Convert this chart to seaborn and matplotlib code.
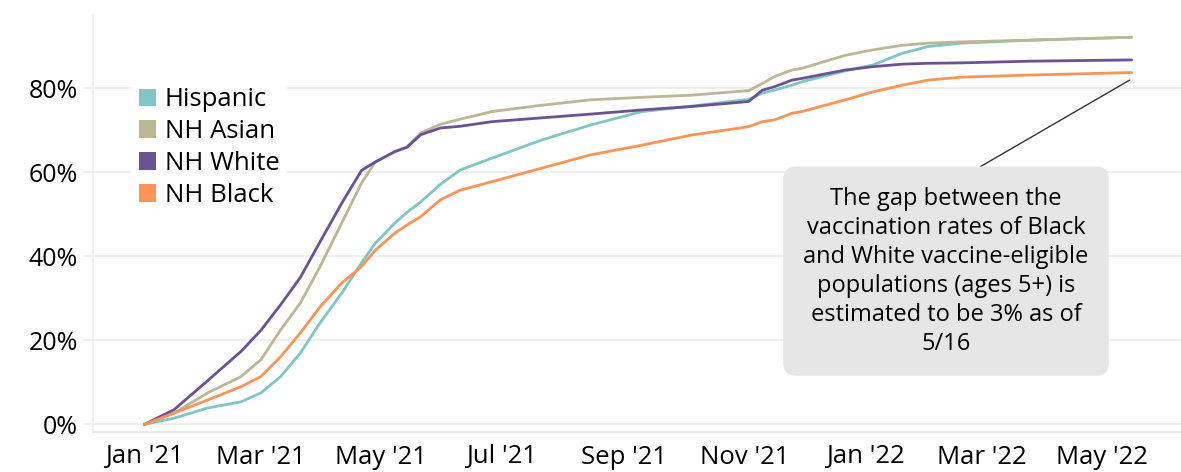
import matplotlib
matplotlib.use("Agg")
import matplotlib.pyplot as plt
import matplotlib.dates as mdates
from matplotlib.patches import Patch
import seaborn as sns
import pandas as pd

dates = ["2021-01-01", "2021-01-16", "2021-02-02", "2021-02-19", "2021-03-01",
         "2021-03-11", "2021-03-21", "2021-03-31", "2021-04-11", "2021-04-21",
         "2021-04-28", "2021-05-08", "2021-05-14", "2021-05-21", "2021-05-31",
         "2021-06-10", "2021-06-26", "2021-07-21", "2021-08-15", "2021-09-10",
         "2021-10-05", "2021-11-03", "2021-11-10", "2021-11-16", "2021-11-25",
         "2021-11-30", "2021-12-22", "2022-01-05", "2022-01-20", "2022-02-02",
         "2022-02-19", "2022-03-25", "2022-05-16"]

hispanic = [0, 1.5, 3.9, 5.4, 7.5, 11.4, 17, 24.2, 31.3, 38.5, 43.2, 48, 50.5, 53,
            57.2, 60.6, 63.4, 67.7, 71.3, 74.5, 75.8, 77.4, 78.9, 79.6, 80.8, 81.6,
            84.2, 85.6, 88.4, 90, 90.8, 91.5, 92.2]
nh_asian = [0, 2.7, 7.5, 11.4, 15.4, 22.5, 28.9, 37.6, 48, 57.5, 62.5, 65, 66.1,
            69.4, 71.5, 72.7, 74.5, 76, 77.3, 77.9, 78.4, 79.5, 81.2, 82.8, 84.4,
            84.8, 87.9, 89.2, 90.3, 90.8, 91.1, 91.5, 92.2]
nh_white = [0, 3.5, 10.4, 17.4, 22.4, 28.5, 35, 43.5, 52.7, 60.5, 62.5, 65, 66,
            69, 70.6, 71, 72.1, 73, 73.9, 74.9, 75.7, 76.9, 79.6, 80.4, 82, 82.4,
            84.4, 85.2, 85.8, 86, 86.1, 86.5, 86.8]
nh_black = [0, 2.7, 5.8, 9, 11.4, 16.1, 21.8, 28, 33.7, 37.6, 41.5, 45.6, 47.5,
            49.5, 53.5, 55.8, 57.8, 61, 64.2, 66.5, 68.9, 70.9, 72.1, 72.5, 74.1,
            74.5, 77.3, 79.2, 80.8, 82, 82.7, 83.2, 83.8]

groups = ["Hispanic", "NH Asian", "NH White", "NH Black"]
colors = ["#7fc6c4", "#bcb795", "#6a5395", "#fd9457"]
y_ticks = [0, 20, 40, 60, 80]

note = ("The gap between the\nvaccination rates of Black\nand White vaccine-eligible\n"
        "populations (ages 5+) is\nestimated to be 3% as of\n5/16")

frames = []
for g, vals in zip(groups, [hispanic, nh_asian, nh_white, nh_black]):
    frames.append(pd.DataFrame({"date": pd.to_datetime(dates), "pct": vals, "group": g}))
df = pd.concat(frames, ignore_index=True)

sns.set_theme(style="white")
plt.rcParams["font.family"] = ["Open Sans", "DejaVu Sans"]

fig = plt.figure(figsize=(11.81, 4.72), dpi=100)
ax = fig.add_axes([93 / 1181, 40 / 472, 1 - 93 / 1181, (432 - 15) / 472])

sns.lineplot(data=df, x="date", y="pct", hue="group", hue_order=groups,
             palette=colors, linewidth=2.0, legend=False, ax=ax)

ax.set_xlim(pd.Timestamp("2020-12-06"), pd.Timestamp("2022-06-10"))
ax.set_ylim(-1.8, 97.5)
ax.set_yticks(y_ticks)
ax.set_yticklabels([f"{v}%" for v in y_ticks])
ax.yaxis.grid(True, color="#ececec", linewidth=1.2)
ax.set_axisbelow(True)

ax.xaxis.set_major_locator(mdates.MonthLocator(bymonth=[1, 3, 5, 7, 9, 11]))
ax.xaxis.set_minor_locator(mdates.MonthLocator())
ax.xaxis.set_major_formatter(mdates.DateFormatter("%b '%y"))

for s in ["top", "right"]:
    ax.spines[s].set_visible(False)
ax.spines["left"].set_color("#efefef")
ax.spines["bottom"].set_color("#ebebeb")
ax.spines["left"].set_linewidth(1.2)
ax.spines["bottom"].set_linewidth(1.5)

ax.tick_params(axis="x", which="both", length=6, color="#e6e6e6", width=1.2,
               labelsize=18.5, pad=3, labelcolor="#000000")
ax.tick_params(axis="y", which="both", length=7, color="#ececec", width=1.2,
               labelsize=18, pad=4, labelcolor="#000000", left=True)
ax.set_xlabel("")
ax.set_ylabel("")

handles = [Patch(facecolor=c, edgecolor="none") for c in colors]
leg = ax.legend(handles, groups, loc="upper left", bbox_to_anchor=(0.035, 0.845),
                frameon=True, framealpha=1, edgecolor="white", fontsize=18.5,
                handlelength=0.68, handleheight=0.68, handletextpad=0.33,
                labelspacing=0.27, borderpad=0.3, borderaxespad=0)
leg.get_frame().set_linewidth(0)
for t in leg.get_texts():
    t.set_color("#000000")

ax.annotate(note, xy=(pd.Timestamp("2022-05-15"), 82.0),
            xytext=(pd.Timestamp("2022-02-11"), 36.5),
            ha="center", va="center", fontsize=17, linespacing=1.28,
            color="#000000",
            bbox=dict(boxstyle="round,pad=0.85,rounding_size=0.55",
                      facecolor="#e6e6e6", edgecolor="none"),
            arrowprops=dict(arrowstyle="-", color="#333333", lw=1.0,
                            relpos=(0.5, 1.0), shrinkA=0, shrinkB=0))

fig.savefig("out.png", dpi=100)
